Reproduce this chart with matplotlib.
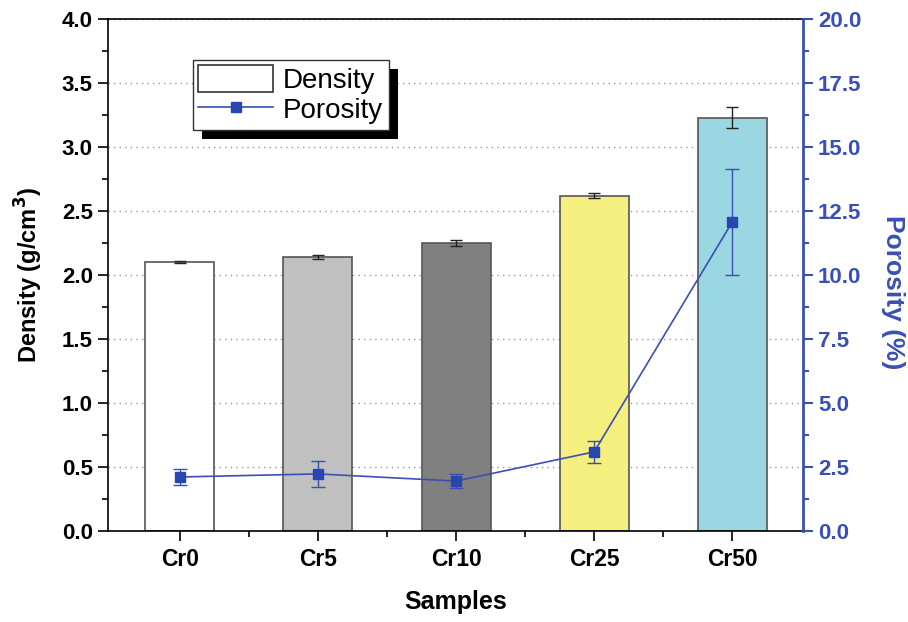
import matplotlib
matplotlib.use("Agg")
import matplotlib.pyplot as plt
from matplotlib.ticker import MultipleLocator, FixedLocator
from matplotlib.patches import Rectangle
import numpy as np

plt.rcParams['font.family'] = ['Liberation Sans', 'DejaVu Sans']

samples = ["Cr0", "Cr5", "Cr10", "Cr25", "Cr50"]
density = [2.10, 2.14, 2.25, 2.62, 3.23]
density_err = [0.01, 0.015, 0.025, 0.02, 0.08]
porosity = [2.11, 2.23, 1.95, 3.09, 12.07]
porosity_err = [0.30, 0.50, 0.27, 0.43, 2.07]
bar_colors = ["#ffffff", "#c0c0c0", "#808080", "#f5ef80", "#9ad7e3"]
blue = "#3a4fb5"

fig = plt.figure(figsize=(9.08, 6.22), dpi=100)
ax = fig.add_axes([0.119, 0.1463, 0.765, 0.8232])
x = np.arange(len(samples))

ax.bar(x, density, width=0.5, color=bar_colors, edgecolor="#555555", linewidth=1.2, zorder=2)
ax.errorbar(x, density, yerr=density_err, fmt="none", ecolor="#222222", elinewidth=1.0,
            capsize=4, capthick=1.0, zorder=3)

ax.set_xlim(-0.52, 4.51)
ax.set_ylim(0, 4.0)
ax.yaxis.set_major_locator(MultipleLocator(0.5))
ax.yaxis.set_minor_locator(MultipleLocator(0.25))
ax.set_xticks(x)
ax.set_xticklabels(samples)
ax.xaxis.set_minor_locator(FixedLocator(x[:-1] + 0.5))
ax.grid(axis="y", which="major", linestyle=(0, (1, 3)), color="#999999", linewidth=1.0, zorder=0)
ax.set_axisbelow(True)
ax.tick_params(axis="y", which="major", direction="out", length=7, width=1.2,
               labelsize=16, pad=4)
ax.tick_params(axis="x", which="major", direction="out", length=7, width=1.2,
               labelsize=16.5, pad=5)
ax.tick_params(axis="both", which="minor", direction="out", length=4, width=1.2)
for lab in ax.get_xticklabels() + ax.get_yticklabels():
    lab.set_fontweight("bold")
ax.set_xlabel("Samples", fontsize=18, fontweight="bold", labelpad=14)
ax.set_ylabel("Density (g/cm$^\\mathbf{3}$)", fontsize=17, fontweight="bold", labelpad=12)
for s in ["left", "bottom", "top"]:
    ax.spines[s].set_linewidth(1.2)
ax.spines["right"].set_visible(False)

ax2 = ax.twinx()
ax2.set_ylim(0, 20)
ax2.yaxis.set_major_locator(MultipleLocator(2.5))
ax2.yaxis.set_minor_locator(MultipleLocator(1.25))
ax2.errorbar(x, porosity, yerr=porosity_err, color=blue, marker="s", markersize=7,
             markerfacecolor="#2a45b0", markeredgecolor="#2a45b0", linewidth=1.2,
             elinewidth=1.0, capsize=5, capthick=1.0, zorder=4)
ax2.spines["right"].set_color(blue)
ax2.spines["right"].set_linewidth(2.0)
for s in ["left", "top", "bottom"]:
    ax2.spines[s].set_visible(False)
ax2.tick_params(axis="y", which="major", direction="out", length=7, width=1.5,
                colors=blue, labelsize=16, pad=4)
ax2.tick_params(axis="y", which="minor", direction="out", length=4, width=1.5, colors=blue)
for lab in ax2.get_yticklabels():
    lab.set_fontweight("bold")
ax2.set_ylabel("Porosity (%)", fontsize=19, fontweight="bold", color=blue,
               rotation=270, va="center", ha="center")
ax2.yaxis.set_label_coords(1.1295, 0.467)

# legend
h1 = Rectangle((0, 0), 1, 1, facecolor="white", edgecolor="#333333", linewidth=1.2)
h2, = ax2.plot([], [], color=blue, marker="s", markersize=7, markerfacecolor="#2a45b0",
               markeredgecolor="#2a45b0", linewidth=1.2)
leg_kw = dict(fontsize=20, frameon=True, fancybox=False, handlelength=2.7,
              handleheight=1.1, borderpad=0.2, labelspacing=0.05, handletextpad=0.35,
              borderaxespad=0, framealpha=1)

leg = ax2.legend([h1, h2], ["Density", "Porosity"], loc="upper left",
                 bbox_to_anchor=(0.122, 0.92), **leg_kw)
fig.canvas.draw()
bb = leg.get_window_extent().transformed(fig.transFigure.inverted())
leg.remove()

dx = 9 / 908
dy = 9 / 622
shadow = Rectangle((bb.x0 + dx, bb.y0 - dy), bb.width, bb.height, transform=fig.transFigure,
                   facecolor="black", edgecolor="none", zorder=9)
fig.patches.append(shadow)
leg2 = fig.legend([h1, h2], ["Density", "Porosity"], loc="lower left",
                  bbox_to_anchor=(bb.x0, bb.y0), bbox_transform=fig.transFigure, **leg_kw)
leg2.get_frame().set_edgecolor("#333333")
leg2.get_frame().set_linewidth(1.0)
leg2.set_zorder(11)

fig.savefig("out.png", dpi=100)
